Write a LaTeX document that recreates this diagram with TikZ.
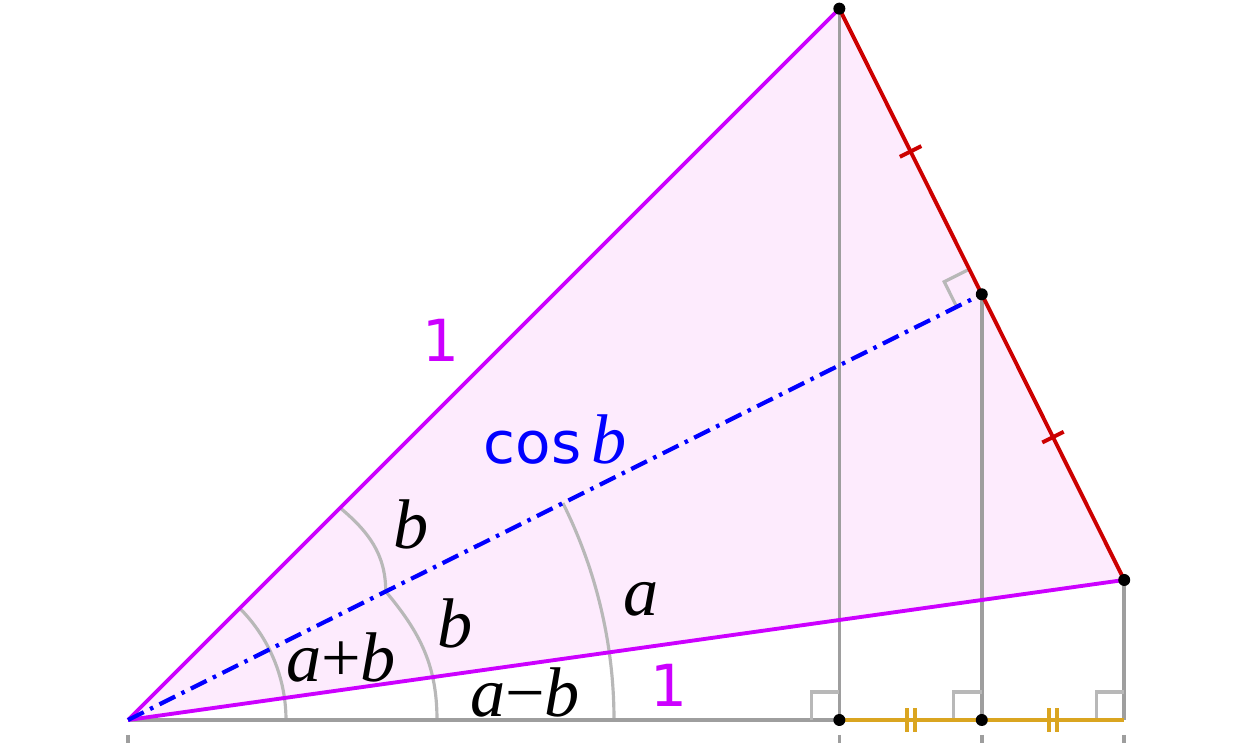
\documentclass[tikz,border=0pt]{standalone}
\usepackage{fontspec}
\setmainfont{DejaVu Sans}
\newfontfamily\serifface{Liberation Serif}
\usetikzlibrary{calc}

\definecolor{unitcolor}{RGB}{204,0,255}
\definecolor{sidecolor}{RGB}{204,0,0}
\definecolor{footcolor}{RGB}{218,165,32}
\definecolor{areacolor}{RGB}{253,235,253}

\newcommand{\angvar}[1]{{\serifface\itshape\fontsize{20}{20}\selectfont #1}}

\begin{document}
\begin{tikzpicture}[
    gridline/.style={draw=black!38, line width=1pt},
    anglearc/.style={draw=black!28, line width=0.9pt},
    rightmark/.style={draw=black!28, line width=0.9pt},
    unitside/.style={draw=unitcolor, line width=1.1pt},
    redside/.style={draw=sidecolor, line width=1.1pt},
    footside/.style={draw=footcolor, line width=1.1pt},
    cosline/.style={draw=blue, line width=1.2pt, dash pattern=on 5pt off 2pt on 1pt off 2pt},
    dot/.style={circle, fill=black, inner sep=0pt, minimum size=0.12cm},
    anglelabel/.style={inner sep=0pt},
    unitlabel/.style={text=unitcolor, font=\fontsize{16.5}{16.5}\selectfont}
]
    \useasboundingbox (-1.28,-0.23) rectangle (11.25,7.20);

    \coordinate (point0) at (0,0);
    \coordinate (point1) at (45:10.06);
    \coordinate (point3) at (8:10.06);
    \coordinate (point2) at ($(point1)!0.5!(point3)$);
    \coordinate (foot1) at (point1 |- point0);
    \coordinate (foot2) at (point2 |- point0);
    \coordinate (foot3) at (point3 |- point0);

    \fill[areacolor] (point0) -- (point1) -- (point3) -- cycle;

    \draw[anglearc] (1.58,0) arc[start angle=0, end angle=45, radius=1.58];
    \draw[anglearc] (4.86,0) arc[start angle=0, end angle=26.5, radius=4.86];
    \draw[anglearc] (45:3.0) to[out=-40, in=90] (26.5:2.88) to[out=-50, in=90] (3.09,0);

    \draw[gridline] (point0) -- (foot1);
    \draw[gridline] (point1) -- (foot1);
    \draw[gridline] (point2) -- (foot2);
    \draw[gridline] (point3) -- (foot3);
    \draw[gridline, dashed] (0,-0.15) -- (0,-0.4);
    \draw[gridline, dashed] ($(foot1)+(0,-0.15)$) -- ($(foot1)+(0,-0.4)$);
    \draw[gridline, dashed] ($(foot2)+(0,-0.15)$) -- ($(foot2)+(0,-0.4)$);
    \draw[gridline, dashed] ($(foot3)+(0,-0.15)$) -- ($(foot3)+(0,-0.4)$);

    \draw[rightmark] ($(foot1)+(-0.28,0)$) -- ++(0,0.28) -- ++(0.28,0);
    \draw[rightmark] ($(foot2)+(-0.28,0)$) -- ++(0,0.28) -- ++(0.28,0);
    \draw[rightmark] ($(foot3)+(-0.28,0)$) -- ++(0,0.28) -- ++(0.28,0);
    \coordinate (mark1) at ($(point2)!0.28cm!(point1)$);
    \coordinate (mark2) at ($(point2)!0.28cm!(point0)$);
    \draw[rightmark] (mark1) -- ($(mark1)+(mark2)-(point2)$) -- (mark2);

    \draw[unitside] (point0) -- (point1);
    \draw[unitside] (point0) -- (point3);
    \draw[cosline] (point0) -- (point2);
    \draw[redside] (point1) -- (point3);
    \draw[footside] (foot1) -- (foot3);

    \coordinate (tick1) at ($(point1)!0.5!(point2)$);
    \coordinate (tick2) at ($(point2)!0.5!(point3)$);
    \draw[redside] ($(tick1)!0.12cm!90:(point1)$) -- ($(tick1)!0.12cm!-90:(point1)$);
    \draw[redside] ($(tick2)!0.12cm!90:(point3)$) -- ($(tick2)!0.12cm!-90:(point3)$);
    \coordinate (tick3) at ($(foot1)!0.5!(foot2)$);
    \coordinate (tick4) at ($(foot2)!0.5!(foot3)$);
    \draw[footside] ($(tick3)+(-0.04,-0.12)$) -- ++(0,0.24);
    \draw[footside] ($(tick3)+(0.04,-0.12)$) -- ++(0,0.24);
    \draw[footside] ($(tick4)+(-0.04,-0.12)$) -- ++(0,0.24);
    \draw[footside] ($(tick4)+(0.04,-0.12)$) -- ++(0,0.24);

    \node[dot] (dot1) at (point1) {};
    \node[dot] (dot2) at (point2) {};
    \node[dot] (dot3) at (point3) {};
    \node[dot] (dot4) at (foot1) {};
    \node[dot] (dot5) at (foot2) {};

    \node[unitlabel] (one1) at (3.13,3.80) {1};
    \node[unitlabel] (one2) at (5.41,0.35) {1};
    \node[text=blue, font=\fontsize{16.5}{16.5}\selectfont] (cosb) at (4.27,2.80) {cos\,\angvar{b}};
    \node[anglelabel] (angle1) at (2.83,1.96) {\angvar{b}};
    \node[anglelabel] (angle2) at (3.27,0.97) {\angvar{b}};
    \node[anglelabel] (angle3) at (5.13,1.21) {\angvar{a}};
    \node[anglelabel] (angle4) at (2.13,0.63) {\angvar{a}{\serifface\fontsize{20}{20}\selectfont +}\angvar{b}};
    \node[anglelabel] (angle5) at (3.97,0.28) {\angvar{a}{\serifface\fontsize{20}{20}\selectfont −}\angvar{b}};
\end{tikzpicture}
\end{document}
